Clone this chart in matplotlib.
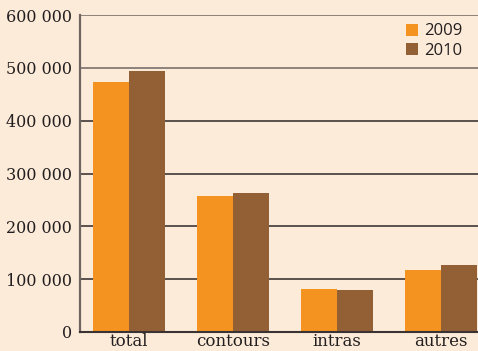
import matplotlib.pyplot as plt
import numpy as np

categories = ["total", "contours", "intras", "autres"]
values_2009 = [473000, 257000, 81500, 117500]
values_2010 = [494000, 263000, 79500, 127000]
years = ["2009", "2010"]
yticks = [0, 100000, 200000, 300000, 400000, 500000, 600000]
ytick_labels = ["0", "100 000", "200 000", "300 000", "400 000", "500 000", "600 000"]

bg = "#fdebd9"
c09 = "#f4931f"
c10 = "#936035"

fig = plt.figure(figsize=(4.78, 3.51), dpi=100, facecolor=bg)
ax = fig.add_axes([80 / 478, 1 - 332 / 351, 1 - 80 / 478, (332 - 15) / 351])
ax.set_facecolor(bg)

x = np.arange(len(categories))
w = 0.35
ax.bar(x - w / 2, values_2009, w, color=c09, label=years[0], zorder=3)
ax.bar(x + w / 2, values_2010, w, color=c10, label=years[1], zorder=3)

ax.set_xlim(-0.471, 3.356)
ax.set_ylim(0, 600000)
ax.set_yticks(yticks)
ax.set_yticklabels(ytick_labels, family="DejaVu Serif", fontsize=11.5, color="#231f20")
ax.set_xticks(x)
ax.set_xticklabels(categories, family="DejaVu Serif", fontsize=12, color="#231f20")
ax.tick_params(length=0, pad=6)
ax.tick_params(axis="x", pad=1)

for yv in yticks[1:]:
    ax.axhline(yv, color="#2e2627" if yv < 500000 else "#6f6561", lw=1.1, zorder=1)

for s in ["top", "right"]:
    ax.spines[s].set_visible(False)
ax.spines["left"].set_color("#6f6561")
ax.spines["left"].set_linewidth(1.6)
ax.spines["bottom"].set_color("#3b3233")
ax.spines["bottom"].set_linewidth(1.5)
ax.spines["bottom"].set_zorder(4)

leg = ax.legend(loc="upper right", bbox_to_anchor=(0.99, 1.01), frameon=False,
                prop={"family": "Open Sans", "size": 12}, handlelength=0.72,
                handleheight=0.72, handletextpad=0.35, labelspacing=0.2,
                borderaxespad=0.3)
for t in leg.get_texts():
    t.set_color("#231f20")

fig.savefig("out.png", dpi=100, facecolor=bg)
